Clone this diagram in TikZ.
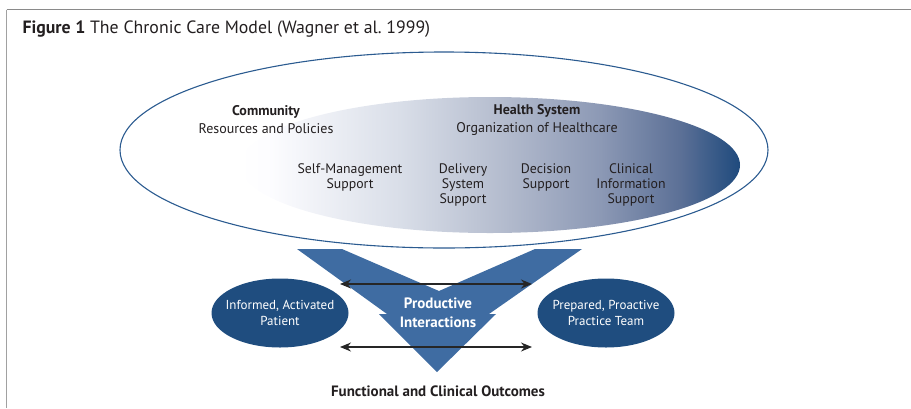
\documentclass[tikz,border=0pt]{standalone}
\usepackage{fontspec}
\setmainfont{PT Sans}
\usetikzlibrary{arrows.meta,shapes.geometric}

\definecolor{ccmnavy}{HTML}{1F4D7F}
\definecolor{ccmblue}{HTML}{3F6CA2}
\definecolor{ccmline}{HTML}{2B5B90}
\definecolor{framegray}{HTML}{8A8A8A}
\definecolor{textgray}{HTML}{231F20}

% white on the left, navy on the right (25bp = left edge, 75bp = right edge)
\pgfdeclarehorizontalshading{ccmfade}{100bp}{%
  rgb(0bp)=(1,1,1); rgb(25bp)=(1,1,1); rgb(28bp)=(0.99,0.99,1);
  rgb(41bp)=(0.85,0.87,0.91); rgb(51bp)=(0.71,0.74,0.81);
  rgb(61bp)=(0.55,0.60,0.71); rgb(69bp)=(0.36,0.44,0.59);
  rgb(75bp)=(0.12,0.29,0.49); rgb(100bp)=(0.12,0.29,0.49)}

\begin{document}
\begin{tikzpicture}[x=1pt,y=-1pt,
    lbl/.style={align=center, text=textgray, font=\fontsize{13.8}{15}\selectfont},
    head/.style={align=center, text=textgray, font=\fontsize{14}{18}\selectfont},
    actor/.style={ellipse, fill=ccmnavy, minimum width=137pt, minimum height=69pt,
        align=center, text=white, font=\fontsize{13}{15.5}\selectfont, inner xsep=-9pt, inner ysep=0pt},
    dblarrow/.style={{Stealth[length=11pt,width=9pt]}-{Stealth[length=11pt,width=9pt]},
        line width=1.3pt, black!85}]
    \useasboundingbox (0,0) rectangle (911,408);

    % Frame
    \draw[framegray, line width=1.6pt] (6.5,9.5) -- (911,9.5);
    \draw[framegray!80, line width=1pt] (6.5,9.5) -- (6.5,408);
    \node[anchor=base west, text=textgray, font=\fontsize{17.8}{20}\selectfont] (title) at (19,33)
        {\textbf{Figure 1} The Chronic Care Model (Wagner et al.\ 1999)};

    % Community and health system
    \node[ellipse, draw=ccmline, line width=1.1pt, minimum width=648pt, minimum height=196pt] (community) at (444,150) {};
    \node[ellipse, shading=ccmfade, minimum width=500pt, minimum height=136pt] (system) at (490,165) {};

    \node[head] (comm) at (266,120) {\textbf{Community}\\Resources and Policies};
    \node[head] (hsys) at (537,120) {\textbf{Health System}\\Organization of Healthcare};

    \node[lbl] (selfm) at (350,177) {Self-Management\\Support};
    \node[lbl] (deliv) at (463,185) {Delivery\\System\\Support};
    \node[lbl] (decis) at (546,177) {Decision\\Support};
    \node[lbl] (clinf) at (631,185) {Clinical\\Information\\Support};

    % Productive interactions
    \fill[ccmblue] (297,249) -- (342,249) -- (439,291) -- (535,249) -- (582,249)
        -- (489,314) -- (496,314) -- (437,372) -- (379,314) -- (387,314) -- cycle;

    \node[actor] (patient) at (280,313) {Informed, Activated\\Patient};
    \node[actor] (team) at (606,313) {Prepared, Proactive\\Practice Team};

    \coordinate (upl) at (340,284);
    \coordinate (upr) at (532,284);
    \coordinate (lol) at (340,347);
    \coordinate (lor) at (532,347);
    \draw[dblarrow] (upl) -- (upr);
    \draw[dblarrow] (lol) -- (lor);

    \node[align=center, text=white, font=\bfseries\fontsize{15}{19}\selectfont] (inter) at (438,312.5)
        {Productive\\Interactions};

    \node[text=textgray, font=\bfseries\fontsize{15}{16}\selectfont] (outc) at (438,391)
        {Functional and Clinical Outcomes};
\end{tikzpicture}
\end{document}
